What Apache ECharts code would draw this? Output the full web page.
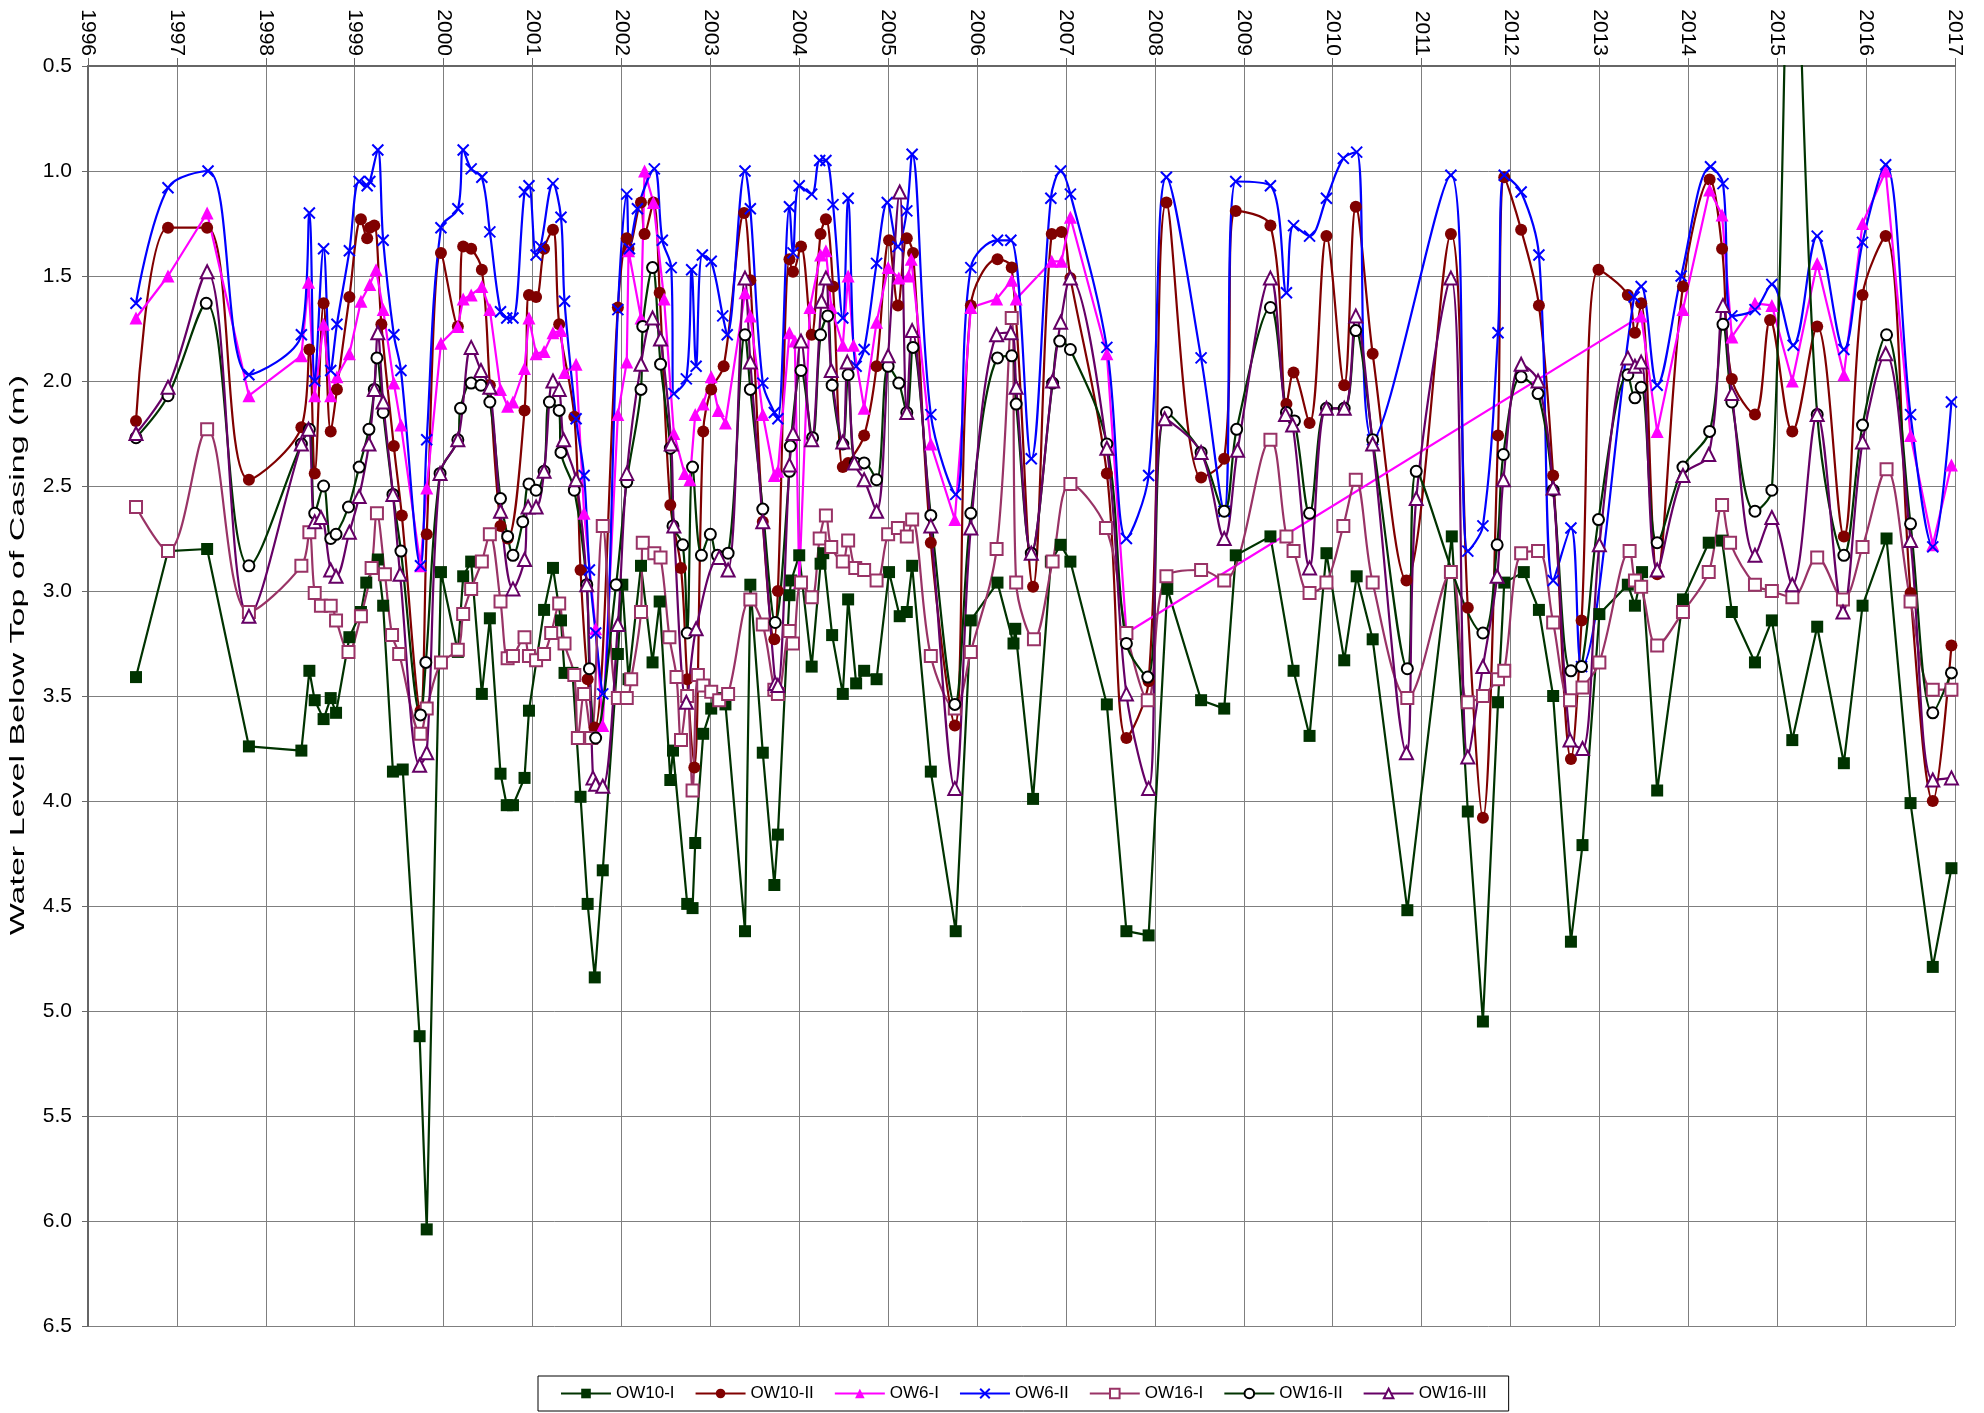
<!DOCTYPE html>
<html>
<head>
<meta charset="utf-8">
<script src="https://cdn.jsdelivr.net/npm/echarts@6/dist/echarts.min.js"></script>
<style>
  html, body { margin: 0; padding: 0; background: #fff; }
  #main { width: 1984px; height: 1413px; }
</style>
</head>
<body>
<div id="main"></div>
<script>
// [decimal year, water level below top of casing (m)]
var ow10I = [[1996.54,3.41],[1996.90,2.81],[1997.34,2.80],[1997.81,3.74],[1998.40,3.76],[1998.49,3.38],[1998.55,3.52],[1998.65,3.61],[1998.73,3.51],[1998.79,3.58],[1998.94,3.22],[1999.07,3.10],[1999.13,2.96],[1999.26,2.85],[1999.32,3.07],[1999.43,3.86],[1999.54,3.85],[1999.73,5.12],[1999.81,6.04],[1999.97,2.91],[2000.16,3.29],[2000.22,2.93],[2000.31,2.86],[2000.43,3.49],[2000.52,3.13],[2000.64,3.87],[2000.71,4.02],[2000.78,4.02],[2000.91,3.89],[2000.96,3.57],[2001.13,3.09],[2001.23,2.89],[2001.32,3.14],[2001.36,3.39],[2001.45,3.39],[2001.54,3.98],[2001.62,4.49],[2001.70,4.84],[2001.79,4.33],[2001.96,3.30],[2002.01,2.97],[2002.08,3.42],[2002.22,2.88],[2002.35,3.34],[2002.43,3.05],[2002.55,3.90],[2002.58,3.76],[2002.74,4.49],[2002.80,4.51],[2002.83,4.20],[2002.92,3.68],[2003.01,3.56],[2003.08,3.51],[2003.17,3.54],[2003.39,4.62],[2003.45,2.97],[2003.59,3.77],[2003.72,4.40],[2003.76,4.16],[2003.89,3.02],[2003.91,2.95],[2004.00,2.83],[2004.14,3.36],[2004.24,2.87],[2004.27,2.82],[2004.37,3.21],[2004.49,3.49],[2004.55,3.04],[2004.64,3.44],[2004.73,3.38],[2004.87,3.42],[2005.01,2.91],[2005.13,3.12],[2005.21,3.10],[2005.27,2.88],[2005.48,3.86],[2005.76,4.62],[2005.93,3.14],[2006.23,2.96],[2006.41,3.25],[2006.43,3.18],[2006.63,3.99],[2006.83,2.86],[2006.94,2.78],[2007.05,2.86],[2007.46,3.54],[2007.68,4.62],[2007.93,4.64],[2008.14,2.99],[2008.52,3.52],[2008.78,3.56],[2008.91,2.83],[2009.30,2.74],[2009.56,3.38],[2009.74,3.69],[2009.93,2.82],[2010.13,3.33],[2010.27,2.93],[2010.45,3.23],[2010.84,4.52],[2011.34,2.74],[2011.52,4.05],[2011.69,5.05],[2011.86,3.53],[2011.93,2.96],[2012.15,2.91],[2012.32,3.09],[2012.48,3.50],[2012.68,4.67],[2012.81,4.21],[2013.00,3.11],[2013.32,2.97],[2013.40,3.07],[2013.48,2.91],[2013.65,3.95],[2013.94,3.04],[2014.23,2.77],[2014.38,2.76],[2014.49,3.10],[2014.75,3.34],[2014.94,3.14],[2015.17,3.71],[2015.45,3.17],[2015.75,3.82],[2015.96,3.07],[2016.23,2.75],[2016.50,4.01],[2016.75,4.79],[2016.96,4.32]];

var ow10II = [[1996.54,2.19],[1996.90,1.27],[1997.34,1.27],[1997.81,2.47],[1998.40,2.22],[1998.49,1.85],[1998.55,2.44],[1998.65,1.63],[1998.73,2.24],[1998.80,2.04],[1998.94,1.60],[1999.07,1.23],[1999.14,1.32],[1999.17,1.27],[1999.22,1.26],[1999.30,1.73],[1999.44,2.31],[1999.53,2.64],[1999.74,3.57],[1999.81,2.73],[1999.97,1.39],[2000.16,1.74],[2000.22,1.36],[2000.31,1.37],[2000.43,1.47],[2000.52,2.02],[2000.64,2.69],[2000.72,2.75],[2000.91,2.14],[2000.96,1.59],[2001.04,1.60],[2001.13,1.37],[2001.23,1.28],[2001.30,1.73],[2001.47,2.17],[2001.54,2.90],[2001.62,3.42],[2001.70,3.65],[2001.96,1.65],[2002.06,1.32],[2002.08,1.37],[2002.22,1.15],[2002.26,1.30],[2002.36,1.15],[2002.43,1.58],[2002.55,2.59],[2002.67,2.89],[2002.74,3.42],[2002.82,3.84],[2002.92,2.24],[2003.01,2.04],[2003.15,1.93],[2003.38,1.20],[2003.45,1.52],[2003.59,2.67],[2003.72,3.23],[2003.76,3.00],[2003.89,1.42],[2003.93,1.48],[2004.02,1.36],[2004.14,1.78],[2004.24,1.30],[2004.30,1.23],[2004.38,1.55],[2004.49,2.41],[2004.55,2.39],[2004.73,2.26],[2004.87,1.93],[2005.01,1.33],[2005.11,1.64],[2005.21,1.32],[2005.28,1.39],[2005.48,2.77],[2005.75,3.64],[2005.93,1.64],[2006.23,1.42],[2006.39,1.46],[2006.63,2.98],[2006.84,1.30],[2006.95,1.29],[2007.05,1.51],[2007.46,2.44],[2007.68,3.70],[2007.93,3.43],[2008.13,1.15],[2008.52,2.46],[2008.78,2.37],[2008.91,1.19],[2009.30,1.26],[2009.48,2.11],[2009.56,1.96],[2009.74,2.20],[2009.93,1.31],[2010.13,2.02],[2010.26,1.17],[2010.45,1.87],[2010.83,2.95],[2011.33,1.30],[2011.52,3.08],[2011.69,4.08],[2011.86,2.26],[2011.93,1.03],[2012.12,1.28],[2012.32,1.64],[2012.48,2.45],[2012.68,3.80],[2012.80,3.14],[2012.99,1.47],[2013.32,1.59],[2013.40,1.77],[2013.47,1.63],[2013.65,2.92],[2013.94,1.55],[2014.24,1.04],[2014.38,1.37],[2014.49,1.99],[2014.75,2.16],[2014.92,1.71],[2015.17,2.24],[2015.45,1.74],[2015.75,2.74],[2015.96,1.59],[2016.22,1.31],[2016.50,3.01],[2016.75,4.00],[2016.96,3.26]];

var ow6I = [[1996.54,1.70],[1996.90,1.50],[1997.34,1.20],[1997.81,2.07],[1998.40,1.88],[1998.48,1.53],[1998.55,2.07],[1998.65,1.73],[1998.73,2.07],[1998.80,1.98],[1998.94,1.87],[1999.07,1.62],[1999.17,1.54],[1999.24,1.47],[1999.32,1.66],[1999.44,2.01],[1999.52,2.21],[1999.74,2.88],[1999.81,2.51],[1999.97,1.82],[2000.16,1.74],[2000.22,1.61],[2000.31,1.59],[2000.43,1.55],[2000.52,1.66],[2000.64,2.04],[2000.72,2.12],[2000.78,2.10],[2000.91,1.94],[2000.96,1.70],[2001.04,1.87],[2001.13,1.86],[2001.23,1.77],[2001.32,1.76],[2001.36,1.96],[2001.49,1.92],[2001.58,2.63],[2001.71,3.18],[2001.79,3.64],[2001.96,2.16],[2002.06,1.91],[2002.08,1.38],[2002.22,1.70],[2002.26,1.00],[2002.36,1.15],[2002.48,1.61],[2002.59,2.25],[2002.71,2.44],[2002.77,2.47],[2002.83,2.16],[2002.92,2.11],[2003.01,1.98],[2003.09,2.14],[2003.17,2.20],[2003.39,1.58],[2003.45,1.69],[2003.59,2.16],[2003.72,2.45],[2003.76,2.43],[2003.89,1.77],[2003.95,1.81],[2004.00,2.96],[2004.12,1.65],[2004.24,1.40],[2004.30,1.38],[2004.36,1.65],[2004.49,1.83],[2004.55,1.50],[2004.61,1.83],[2004.73,2.13],[2004.87,1.72],[2005.00,1.46],[2005.12,1.51],[2005.23,1.50],[2005.26,1.42],[2005.48,2.30],[2005.75,2.66],[2005.93,1.65],[2006.22,1.61],[2006.39,1.52],[2006.44,1.61],[2006.84,1.43],[2006.95,1.43],[2007.05,1.22],[2007.46,1.87],[2007.68,3.20],[2013.47,1.69],[2013.65,2.24],[2013.94,1.66],[2014.24,1.09],[2014.38,1.21],[2014.49,1.79],[2014.75,1.63],[2014.94,1.64],[2015.17,2.00],[2015.45,1.44],[2015.75,1.97],[2015.96,1.25],[2016.22,1.00],[2016.50,2.26],[2016.75,2.78],[2016.96,2.40]];

var ow6II = [[1996.54,1.63],[1996.90,1.08],[1997.35,1.00],[1997.81,1.97],[1998.40,1.78],[1998.49,1.20],[1998.55,2.00],[1998.65,1.37],[1998.73,1.95],[1998.80,1.73],[1998.94,1.38],[1999.05,1.05],[1999.14,1.07],[1999.17,1.05],[1999.26,0.90],[1999.32,1.33],[1999.44,1.78],[1999.52,1.95],[1999.74,2.88],[1999.81,2.28],[1999.97,1.27],[2000.16,1.18],[2000.22,0.90],[2000.31,0.99],[2000.43,1.03],[2000.52,1.29],[2000.64,1.67],[2000.71,1.70],[2000.78,1.70],[2000.91,1.10],[2000.96,1.07],[2001.04,1.40],[2001.09,1.36],[2001.23,1.06],[2001.32,1.22],[2001.36,1.62],[2001.49,2.18],[2001.58,2.45],[2001.64,2.90],[2001.71,3.20],[2001.79,3.49],[2001.96,1.66],[2002.06,1.11],[2002.09,1.37],[2002.18,1.18],[2002.37,0.99],[2002.46,1.33],[2002.56,1.46],[2002.59,2.06],[2002.73,1.99],[2002.79,1.47],[2002.84,1.93],[2002.91,1.40],[2003.01,1.43],[2003.14,1.69],[2003.19,1.78],[2003.39,1.00],[2003.45,1.18],[2003.59,2.01],[2003.72,2.15],[2003.76,2.18],[2003.89,1.17],[2003.93,1.39],[2004.00,1.07],[2004.14,1.11],[2004.23,0.95],[2004.30,0.95],[2004.38,1.16],[2004.49,1.70],[2004.55,1.13],[2004.64,1.93],[2004.73,1.85],[2004.87,1.44],[2004.99,1.15],[2005.11,1.36],[2005.21,1.19],[2005.27,0.92],[2005.48,2.16],[2005.76,2.54],[2005.93,1.46],[2006.23,1.33],[2006.38,1.33],[2006.61,2.37],[2006.83,1.13],[2006.94,1.00],[2007.05,1.11],[2007.46,1.84],[2007.68,2.75],[2007.93,2.45],[2008.13,1.03],[2008.52,1.89],[2008.78,2.62],[2008.91,1.05],[2009.30,1.07],[2009.48,1.58],[2009.56,1.26],[2009.74,1.31],[2009.93,1.13],[2010.12,0.94],[2010.27,0.91],[2010.45,2.28],[2011.33,1.02],[2011.52,2.81],[2011.69,2.69],[2011.86,1.77],[2011.93,1.02],[2012.12,1.10],[2012.32,1.40],[2012.48,2.95],[2012.68,2.70],[2012.80,3.36],[2013.39,1.60],[2013.47,1.55],[2013.65,2.02],[2013.92,1.50],[2014.25,0.98],[2014.39,1.06],[2014.49,1.69],[2014.75,1.66],[2014.94,1.54],[2015.18,1.83],[2015.45,1.31],[2015.75,1.85],[2015.96,1.34],[2016.22,0.97],[2016.50,2.16],[2016.75,2.79],[2016.96,2.10]];

var ow16I = [[1996.54,2.60],[1996.90,2.81],[1997.34,2.23],[1997.81,3.10],[1998.40,2.88],[1998.49,2.72],[1998.55,3.01],[1998.62,3.07],[1998.73,3.07],[1998.79,3.14],[1998.93,3.29],[1999.07,3.12],[1999.19,2.89],[1999.25,2.63],[1999.34,2.92],[1999.42,3.21],[1999.50,3.30],[1999.74,3.68],[1999.81,3.56],[1999.97,3.34],[2000.16,3.28],[2000.22,3.11],[2000.31,2.99],[2000.43,2.86],[2000.52,2.73],[2000.64,3.05],[2000.72,3.32],[2000.78,3.31],[2000.91,3.22],[2000.96,3.31],[2001.04,3.33],[2001.13,3.30],[2001.21,3.20],[2001.30,3.06],[2001.36,3.25],[2001.47,3.40],[2001.51,3.70],[2001.58,3.49],[2001.66,3.70],[2001.79,2.69],[2001.96,3.51],[2002.06,3.51],[2002.11,3.42],[2002.22,3.10],[2002.24,2.77],[2002.37,2.82],[2002.44,2.84],[2002.54,3.22],[2002.62,3.41],[2002.67,3.71],[2002.74,3.50],[2002.80,3.95],[2002.86,3.40],[2002.92,3.45],[2003.01,3.48],[2003.10,3.52],[2003.20,3.49],[2003.45,3.04],[2003.59,3.16],[2003.72,3.47],[2003.76,3.49],[2003.89,3.19],[2003.93,3.25],[2004.02,2.96],[2004.14,3.03],[2004.23,2.75],[2004.30,2.64],[2004.36,2.79],[2004.49,2.86],[2004.55,2.76],[2004.63,2.89],[2004.73,2.90],[2004.87,2.95],[2005.00,2.73],[2005.11,2.70],[2005.21,2.74],[2005.27,2.66],[2005.48,3.31],[2005.75,3.56],[2005.93,3.29],[2006.22,2.80],[2006.39,1.70],[2006.44,2.96],[2006.64,3.23],[2006.85,2.86],[2007.05,2.49],[2007.45,2.70],[2007.68,3.20],[2007.92,3.52],[2008.13,2.93],[2008.52,2.90],[2008.78,2.95],[2009.30,2.28],[2009.48,2.74],[2009.56,2.81],[2009.74,3.01],[2009.93,2.96],[2010.12,2.69],[2010.26,2.47],[2010.45,2.96],[2010.84,3.51],[2011.33,2.91],[2011.52,3.53],[2011.69,3.50],[2011.86,3.42],[2011.93,3.38],[2012.12,2.82],[2012.31,2.81],[2012.48,3.15],[2012.67,3.52],[2012.81,3.46],[2013.00,3.34],[2013.34,2.81],[2013.40,2.95],[2013.47,2.98],[2013.65,3.26],[2013.94,3.10],[2014.23,2.91],[2014.38,2.59],[2014.47,2.77],[2014.75,2.97],[2014.94,3.00],[2015.17,3.03],[2015.45,2.84],[2015.74,3.04],[2015.96,2.79],[2016.23,2.42],[2016.50,3.05],[2016.75,3.47],[2016.96,3.47]];

var ow16II = [[1996.54,2.27],[1996.90,2.07],[1997.33,1.63],[1997.81,2.88],[1998.40,2.30],[1998.49,2.23],[1998.55,2.63],[1998.65,2.50],[1998.73,2.75],[1998.79,2.73],[1998.93,2.60],[1999.05,2.41],[1999.16,2.23],[1999.22,2.04],[1999.25,1.89],[1999.32,2.15],[1999.43,2.54],[1999.52,2.81],[1999.74,3.59],[1999.80,3.34],[1999.96,2.44],[2000.16,2.28],[2000.19,2.13],[2000.31,2.01],[2000.42,2.02],[2000.52,2.10],[2000.64,2.56],[2000.72,2.74],[2000.78,2.83],[2000.89,2.67],[2000.96,2.49],[2001.04,2.52],[2001.13,2.43],[2001.19,2.10],[2001.30,2.14],[2001.32,2.34],[2001.47,2.52],[2001.61,2.97],[2001.64,3.37],[2001.71,3.70],[2001.94,2.97],[2002.06,2.48],[2002.22,2.04],[2002.24,1.74],[2002.35,1.46],[2002.44,1.92],[2002.55,2.32],[2002.58,2.69],[2002.69,2.78],[2002.74,3.20],[2002.80,2.41],[2002.90,2.83],[2003.00,2.73],[2003.08,2.83],[2003.20,2.82],[2003.39,1.78],[2003.45,2.04],[2003.59,2.61],[2003.73,3.15],[2003.89,2.43],[2003.90,2.31],[2004.02,1.95],[2004.15,2.27],[2004.24,1.78],[2004.32,1.69],[2004.37,2.02],[2004.49,2.30],[2004.55,1.97],[2004.63,2.39],[2004.73,2.39],[2004.87,2.47],[2005.00,1.93],[2005.12,2.01],[2005.21,2.15],[2005.28,1.84],[2005.48,2.64],[2005.75,3.54],[2005.93,2.63],[2006.23,1.89],[2006.39,1.88],[2006.44,2.11],[2006.61,2.82],[2006.85,2.01],[2006.93,1.81],[2007.05,1.85],[2007.46,2.30],[2007.68,3.25],[2007.92,3.41],[2008.13,2.15],[2008.52,2.34],[2008.78,2.62],[2008.92,2.23],[2009.30,1.65],[2009.48,2.15],[2009.57,2.19],[2009.74,2.63],[2009.93,2.13],[2010.13,2.13],[2010.26,1.76],[2010.45,2.28],[2010.84,3.37],[2010.94,2.43],[2011.69,3.20],[2011.85,2.78],[2011.92,2.35],[2012.12,1.98],[2012.31,2.06],[2012.48,2.52],[2012.68,3.38],[2012.80,3.36],[2012.99,2.66],[2013.32,1.97],[2013.40,2.08],[2013.47,2.03],[2013.65,2.77],[2013.94,2.41],[2014.24,2.24],[2014.39,1.73],[2014.49,2.10],[2014.75,2.62],[2014.94,2.52],[2015.17,-0.4],[2015.45,2.16],[2015.75,2.83],[2015.96,2.21],[2016.23,1.78],[2016.50,2.68],[2016.75,3.58],[2016.96,3.39]];

var ow16III = [[1996.54,2.25],[1996.90,2.03],[1997.34,1.48],[1997.81,3.12],[1998.40,2.30],[1998.48,2.23],[1998.55,2.67],[1998.62,2.65],[1998.73,2.90],[1998.79,2.93],[1998.94,2.72],[1999.05,2.55],[1999.16,2.30],[1999.22,2.04],[1999.26,1.77],[1999.32,2.10],[1999.43,2.54],[1999.51,2.92],[1999.73,3.83],[1999.81,3.77],[1999.96,2.44],[2000.16,2.28],[2000.31,1.84],[2000.42,1.95],[2000.52,2.03],[2000.64,2.62],[2000.78,2.99],[2000.91,2.85],[2000.95,2.60],[2001.04,2.60],[2001.13,2.43],[2001.23,2.00],[2001.30,2.04],[2001.35,2.28],[2001.49,2.47],[2001.61,2.97],[2001.68,3.89],[2001.71,3.92],[2001.79,3.93],[2001.96,3.16],[2002.06,2.44],[2002.22,1.92],[2002.35,1.70],[2002.44,1.80],[2002.56,2.30],[2002.59,2.69],[2002.73,3.53],[2002.84,3.18],[2003.10,2.84],[2003.20,2.90],[2003.39,1.51],[2003.45,1.91],[2003.59,2.67],[2003.73,3.44],[2003.76,3.45],[2003.89,2.40],[2003.93,2.25],[2004.02,1.81],[2004.14,2.28],[2004.25,1.62],[2004.30,1.51],[2004.36,1.95],[2004.49,2.29],[2004.54,1.91],[2004.62,2.39],[2004.73,2.47],[2004.87,2.62],[2005.00,1.88],[2005.13,1.10],[2005.21,2.15],[2005.27,1.76],[2005.48,2.69],[2005.75,3.94],[2005.93,2.70],[2006.22,1.78],[2006.38,1.77],[2006.44,2.03],[2006.61,2.82],[2006.85,2.00],[2006.94,1.72],[2007.05,1.51],[2007.46,2.32],[2007.68,3.49],[2007.93,3.94],[2008.11,2.18],[2008.52,2.34],[2008.78,2.75],[2008.93,2.33],[2009.30,1.51],[2009.47,2.16],[2009.55,2.21],[2009.74,2.89],[2009.93,2.13],[2010.13,2.13],[2010.26,1.69],[2010.45,2.30],[2010.83,3.77],[2010.94,2.56],[2011.33,1.51],[2011.52,3.79],[2011.69,3.36],[2011.85,2.93],[2011.92,2.47],[2012.12,1.92],[2012.31,2.00],[2012.48,2.51],[2012.67,3.71],[2012.81,3.75],[2013.00,2.78],[2013.32,1.89],[2013.40,1.93],[2013.47,1.91],[2013.65,2.90],[2013.94,2.45],[2014.23,2.35],[2014.39,1.64],[2014.49,2.06],[2014.75,2.83],[2014.94,2.65],[2015.17,2.97],[2015.45,2.16],[2015.74,3.10],[2015.96,2.29],[2016.22,1.87],[2016.50,2.76],[2016.75,3.90],[2016.96,3.89]];

var seriesNames = ['OW10-I', 'OW10-II', 'OW6-I', 'OW6-II', 'OW16-I', 'OW16-II', 'OW16-III'];
var yTitle = 'Water Level Below Top of Casing (m)';

var fontFamily = '"Liberation Sans", Arial, sans-serif';
var gridColor = '#7f7f7f';

var chartDom = document.getElementById('main');
var myChart = echarts.init(chartDom);

function mkSeries(name, data, opts) {
  return Object.assign({
    name: name,
    type: 'line',
    data: data,
    clip: true
  }, opts);
}

var option = {
  animation: false,
  backgroundColor: '#fff',
  textStyle: { fontFamily: fontFamily },
  grid: { left: 88, right: 29, top: 66, bottom: 87 },
  // y axis title, drawn as rotated text so it can be stretched like the original
  graphic: [{
    type: 'text',
    left: 8,
    top: 375,
    rotation: Math.PI / 2,
    scaleX: 1.62,
    style: {
      text: yTitle,
      fontSize: 21,
      fontFamily: fontFamily,
      fill: '#000'
    }
  }],
  legend: {
    data: seriesNames,
    left: 538,
    top: 1376,
    padding: [9, 22, 9, 22],
    borderColor: '#000',
    borderWidth: 1,
    itemWidth: 50,
    itemHeight: 12,
    itemGap: 20,
    textStyle: { fontSize: 17, color: '#000', fontFamily: fontFamily }
  },
  xAxis: {
    type: 'value',
    position: 'top',
    min: 1996,
    max: 2017,
    interval: 1,
    axisLine: { show: true, lineStyle: { color: '#666', width: 2 } },
    axisTick: { show: true, length: 8, lineStyle: { color: '#666' } },
    axisLabel: {
      rotate: 90,
      margin: 10,
      fontSize: 21,
      color: '#000',
      fontFamily: fontFamily,
      formatter: function (v) { return String(v); }
    },
    splitLine: { show: true, lineStyle: { color: gridColor, width: 1 } }
  },
  yAxis: {
    type: 'value',
    inverse: true,
    min: 0.5,
    max: 6.5,
    interval: 0.5,
    axisLine: { show: true, lineStyle: { color: '#666', width: 2 } },
    axisTick: { show: true, length: 6, lineStyle: { color: '#666' } },
    axisLabel: {
      margin: 16,
      fontSize: 21,
      color: '#000',
      fontFamily: fontFamily,
      formatter: function (v) { return v.toFixed(1); }
    },
    splitLine: { show: true, lineStyle: { color: gridColor, width: 1 } }
  },
  series: [
    mkSeries('OW10-I', ow10I, {
      symbol: 'rect', symbolSize: 12,
      itemStyle: { color: '#003300' },
      lineStyle: { width: 2.2, color: '#003300' }
    }),
    mkSeries('OW10-II', ow10II, {
      smooth: 0.35,
      symbol: 'circle', symbolSize: 12,
      itemStyle: { color: '#800000' },
      lineStyle: { width: 2.2, color: '#800000' }
    }),
    mkSeries('OW6-I', ow6I, {
      symbol: 'triangle', symbolSize: 13,
      itemStyle: { color: '#ff00ff' },
      lineStyle: { width: 2.2, color: '#ff00ff' }
    }),
    mkSeries('OW6-II', ow6II, {
      smooth: 0.35,
      symbol: 'path://M0,0L10,10M10,0L0,10', symbolSize: 11,
      itemStyle: { color: '#0000ff', borderColor: '#0000ff', borderWidth: 2 },
      lineStyle: { width: 2.2, color: '#0000ff' }
    }),
    mkSeries('OW16-I', ow16I, {
      smooth: 0.35,
      symbol: 'emptyRect', symbolSize: 12,
      itemStyle: { color: '#993366', borderColor: '#993366', borderWidth: 2 },
      lineStyle: { width: 2.2, color: '#993366' }
    }),
    mkSeries('OW16-II', ow16II, {
      smooth: 0.35,
      symbol: 'emptyCircle', symbolSize: 11,
      itemStyle: { color: '#000000', borderColor: '#000000', borderWidth: 1.5 },
      lineStyle: { width: 2.2, color: '#003300' }
    }),
    mkSeries('OW16-III', ow16III, {
      smooth: 0.35,
      symbol: 'emptyTriangle', symbolSize: 13,
      itemStyle: { color: '#660066', borderColor: '#660066', borderWidth: 1.5 },
      lineStyle: { width: 2.2, color: '#660066' }
    })
  ]
};

myChart.setOption(option);
</script>
</body>
</html>
